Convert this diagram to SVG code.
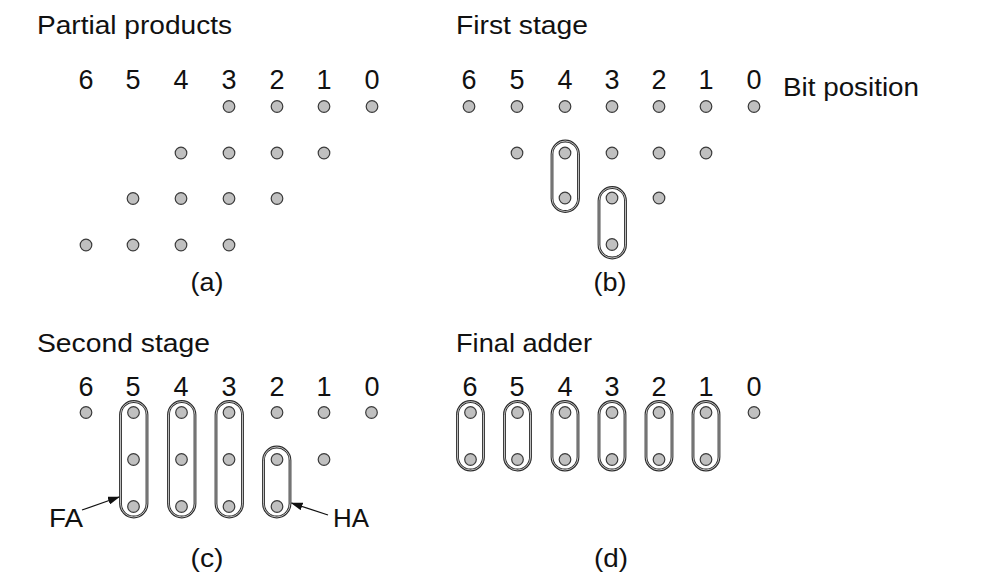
<svg xmlns="http://www.w3.org/2000/svg" width="992" height="588" viewBox="0 0 992 588">
<defs>
<style>
text{font-family:"Liberation Sans",Arial,sans-serif;font-size:25px;fill:#111}
.n text{font-size:27px}
.d{fill:#c0c0c0;stroke:#3a3a3a;stroke-width:1.2}
.o1{fill:none;stroke:#2a2a2a;stroke-width:2.8}
.o2{fill:none;stroke:#fff;stroke-width:0.7}
.n,.c{text-anchor:middle}
.ar{stroke:#111;stroke-width:1.3;fill:none}
</style>
<symbol id="dot" overflow="visible"><circle class="d" cx="0" cy="0" r="5.8"/></symbol>
<marker id="ah" markerWidth="12" markerHeight="8" refX="11" refY="4" orient="auto" markerUnits="userSpaceOnUse">
<path d="M0,0 L12,4 L0,8 Z" fill="#111"/>
</marker>
</defs>
<rect width="992" height="588" fill="#fff"/>

<!-- Panel (a) -->
<g id="panel-a">
<text x="37" y="34" textLength="195" lengthAdjust="spacingAndGlyphs">Partial products</text>
<g class="n">
<text x="86" y="89">6</text><text x="133" y="89">5</text><text x="181" y="89">4</text><text x="229" y="89">3</text><text x="277" y="89">2</text><text x="324" y="89">1</text><text x="372" y="89">0</text>
</g>
<g id="a-dots">
<use href="#dot" x="229" y="106.5"/><use href="#dot" x="277" y="106.5"/><use href="#dot" x="324" y="106.5"/><use href="#dot" x="372" y="106.5"/>
<use href="#dot" x="181" y="153"/><use href="#dot" x="229" y="153"/><use href="#dot" x="277" y="153"/><use href="#dot" x="324" y="153"/>
<use href="#dot" x="133" y="198.5"/><use href="#dot" x="181" y="198.5"/><use href="#dot" x="229" y="198.5"/><use href="#dot" x="277" y="198.5"/>
<use href="#dot" x="86" y="245"/><use href="#dot" x="133" y="245"/><use href="#dot" x="181" y="245"/><use href="#dot" x="229" y="245"/>
</g>
<text class="c" x="207" y="291" textLength="33" lengthAdjust="spacingAndGlyphs">(a)</text>
</g>

<!-- Panel (b) -->
<g id="panel-b">
<text x="456" y="34" textLength="132" lengthAdjust="spacingAndGlyphs">First stage</text>
<g class="n">
<text x="469" y="89">6</text><text x="517" y="89">5</text><text x="565" y="89">4</text><text x="612" y="89">3</text><text x="659" y="89">2</text><text x="706" y="89">1</text><text x="754" y="89">0</text>
</g>
<text x="783" y="96" textLength="136" lengthAdjust="spacingAndGlyphs">Bit position</text>
<g id="b-group-4">
<rect class="o1" x="552" y="141" width="26.5" height="70.5" rx="13.25"/>
<rect class="o2" x="552" y="141" width="26.5" height="70.5" rx="13.25"/>
</g>
<g id="b-group-3">
<rect class="o1" x="599" y="187.5" width="26.5" height="70.5" rx="13.25"/>
<rect class="o2" x="599" y="187.5" width="26.5" height="70.5" rx="13.25"/>
</g>
<g id="b-dots">
<use href="#dot" x="469" y="106.5"/><use href="#dot" x="517" y="106.5"/><use href="#dot" x="565" y="106.5"/><use href="#dot" x="612" y="106.5"/><use href="#dot" x="659" y="106.5"/><use href="#dot" x="706" y="106.5"/><use href="#dot" x="754" y="106.5"/>
<use href="#dot" x="517" y="153"/><use href="#dot" x="565" y="153"/><use href="#dot" x="612" y="153"/><use href="#dot" x="659" y="153"/><use href="#dot" x="706" y="153"/>
<use href="#dot" x="565" y="198"/><use href="#dot" x="612" y="198"/><use href="#dot" x="659" y="198"/>
<use href="#dot" x="612" y="244.5"/>
</g>
<text class="c" x="610" y="291" textLength="33" lengthAdjust="spacingAndGlyphs">(b)</text>
</g>

<!-- Panel (c) -->
<g id="panel-c">
<text x="37" y="352" textLength="173" lengthAdjust="spacingAndGlyphs">Second stage</text>
<g class="n">
<text x="86" y="396">6</text><text x="133" y="396">5</text><text x="181" y="396">4</text><text x="229" y="396">3</text><text x="277" y="396">2</text><text x="324" y="396">1</text><text x="372" y="396">0</text>
</g>
<g id="c-fa-5">
<rect class="o1" x="120.5" y="401.5" width="26.5" height="115.5" rx="13.25"/>
<rect class="o2" x="120.5" y="401.5" width="26.5" height="115.5" rx="13.25"/>
</g>
<g id="c-fa-4">
<rect class="o1" x="168.5" y="401.5" width="26.5" height="115.5" rx="13.25"/>
<rect class="o2" x="168.5" y="401.5" width="26.5" height="115.5" rx="13.25"/>
</g>
<g id="c-fa-3">
<rect class="o1" x="216" y="401.5" width="26.5" height="115.5" rx="13.25"/>
<rect class="o2" x="216" y="401.5" width="26.5" height="115.5" rx="13.25"/>
</g>
<g id="c-ha-2">
<rect class="o1" x="263.5" y="447" width="26.5" height="70" rx="13.25"/>
<rect class="o2" x="263.5" y="447" width="26.5" height="70" rx="13.25"/>
</g>
<g id="c-dots">
<use href="#dot" x="86" y="412.5"/><use href="#dot" x="133.5" y="412.5"/><use href="#dot" x="181.5" y="412.5"/><use href="#dot" x="229" y="412.5"/><use href="#dot" x="277" y="412.5"/><use href="#dot" x="324" y="412.5"/><use href="#dot" x="371.5" y="412.5"/>
<use href="#dot" x="133.5" y="459.5"/><use href="#dot" x="181.5" y="459.5"/><use href="#dot" x="229" y="459.5"/><use href="#dot" x="277" y="459.5"/><use href="#dot" x="324" y="459.5"/>
<use href="#dot" x="133.5" y="506.5"/><use href="#dot" x="181.5" y="506.5"/><use href="#dot" x="229" y="506.5"/><use href="#dot" x="277" y="506.5"/>
</g>
<g id="label-fa"><text x="49" y="527" textLength="34" lengthAdjust="spacingAndGlyphs">FA</text></g>
<g id="label-ha"><text x="333" y="527" textLength="36" lengthAdjust="spacingAndGlyphs">HA</text></g>
<text class="c" x="207" y="567" textLength="33" lengthAdjust="spacingAndGlyphs">(c)</text>
</g>

<!-- Panel (d) -->
<g id="panel-d">
<text x="456" y="352" textLength="136" lengthAdjust="spacingAndGlyphs">Final adder</text>
<g class="n">
<text x="470" y="396">6</text><text x="517" y="396">5</text><text x="565" y="396">4</text><text x="612" y="396">3</text><text x="659" y="396">2</text><text x="706" y="396">1</text><text x="754" y="396">0</text>
</g>
<g id="d-add-6"><rect class="o1" x="457.5" y="401.5" width="26" height="68.5" rx="13"/><rect class="o2" x="457.5" y="401.5" width="26" height="68.5" rx="13"/></g>
<g id="d-add-5"><rect class="o1" x="504.5" y="401.5" width="26" height="68.5" rx="13"/><rect class="o2" x="504.5" y="401.5" width="26" height="68.5" rx="13"/></g>
<g id="d-add-4"><rect class="o1" x="552" y="401.5" width="26" height="68.5" rx="13"/><rect class="o2" x="552" y="401.5" width="26" height="68.5" rx="13"/></g>
<g id="d-add-3"><rect class="o1" x="599" y="401.5" width="26" height="68.5" rx="13"/><rect class="o2" x="599" y="401.5" width="26" height="68.5" rx="13"/></g>
<g id="d-add-2"><rect class="o1" x="646" y="401.5" width="26" height="68.5" rx="13"/><rect class="o2" x="646" y="401.5" width="26" height="68.5" rx="13"/></g>
<g id="d-add-1"><rect class="o1" x="693" y="401.5" width="26" height="68.5" rx="13"/><rect class="o2" x="693" y="401.5" width="26" height="68.5" rx="13"/></g>
<g id="d-dots">
<use href="#dot" x="470.5" y="412.5"/><use href="#dot" x="517.5" y="412.5"/><use href="#dot" x="565" y="412.5"/><use href="#dot" x="612" y="412.5"/><use href="#dot" x="659" y="412.5"/><use href="#dot" x="706" y="412.5"/><use href="#dot" x="754" y="412.5"/>
<use href="#dot" x="470.5" y="459.5"/><use href="#dot" x="517.5" y="459.5"/><use href="#dot" x="565" y="459.5"/><use href="#dot" x="612" y="459.5"/><use href="#dot" x="659" y="459.5"/><use href="#dot" x="706" y="459.5"/>
</g>
<text class="c" x="611" y="567" textLength="34" lengthAdjust="spacingAndGlyphs">(d)</text>
</g>

<!-- Connectors -->
<g id="connectors">
<line class="ar" x1="82" y1="510" x2="119" y2="497" marker-end="url(#ah)"/>
<line class="ar" x1="328" y1="515" x2="291.5" y2="503" marker-end="url(#ah)"/>
</g>
</svg>
